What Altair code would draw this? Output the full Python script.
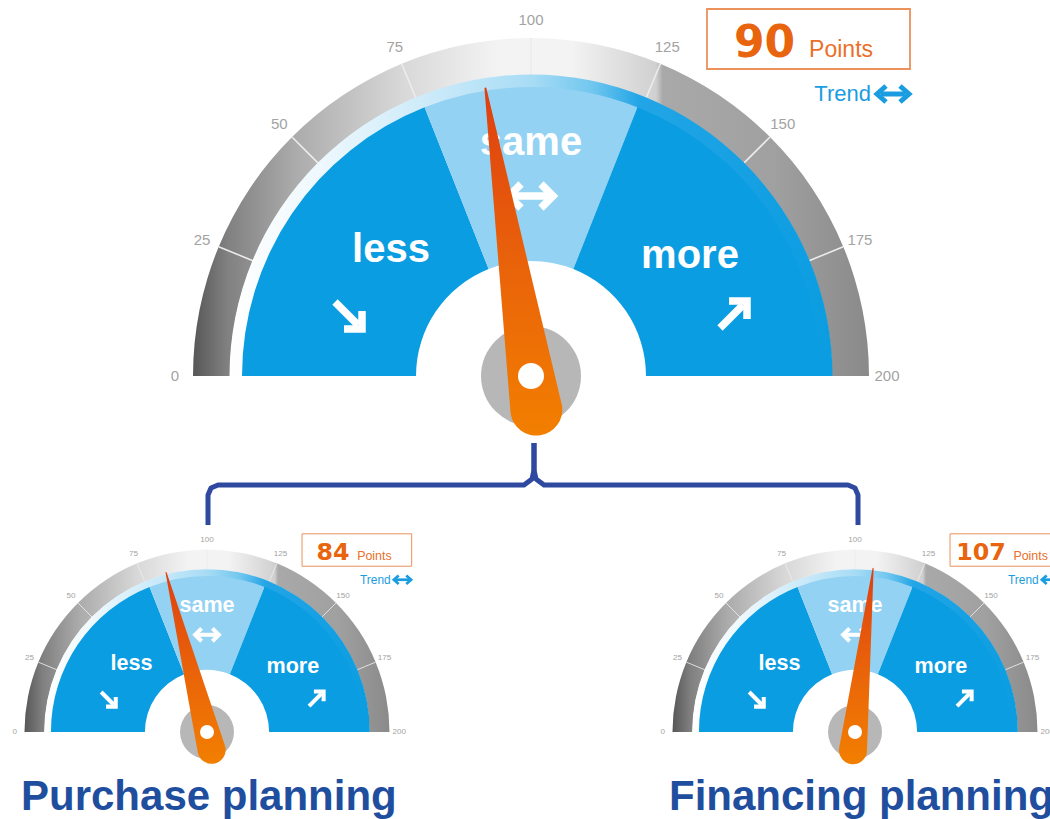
import math
import altair as alt
import pandas as pd

# ---------------- data ----------------
gauge_points = [90, 84, 107]
gauge_titles = ["", "Purchase planning", "Financing planning"]
tick_values = [0, 25, 50, 75, 100, 125, 150, 175, 200]
zone_names = ["less", "same", "more"]
zone_bounds = [0, 76, 124, 200]
zone_arrows = ["down", "both", "up"]
points_label = "Points"
trend_label = "Trend"
SCALE_MAX = 200

# ---------------- layout (style) ----------------
CX = [531, 207, 855]
CY = [376, 732, 732]
S = [1.0, 0.54, 0.54]
R_RING = (301, 338)
R_BAND = (287, 301.5)
R_SECT = (115, 289)
R_HUB = 50
R_DOT = 13
R_LABEL = 356
NEEDLE_LEN = [291, 305, 305]
NEEDLE_TAIL = 34
ZONE_TEXT_OFF = {"less": (-140, -126), "same": (0, -233), "more": (159, -120)}
ZONE_ARROW_OFF = {"less": (-183, -61), "same": (0, -180), "more": (202, -61)}
ARROW_SHAPES = {
    "down": [[(-13, -13), (10, 10)], [(14, -4), (14, 14), (-4, 14)]],
    "up": [[(-13, 13), (10, -10)], [(-4, -14), (14, -14), (14, 4)]],
    "both": [[(-20, 0), (20, 0)], [(-10, -12), (-22, 0), (-10, 12)], [(10, -12), (22, 0), (10, 12)]],
}
TREND_ARROW = [[(-12, 0), (12, 0)], [(-7, -8), (-16, 0), (-7, 8)], [(7, -8), (16, 0), (7, 8)]]

BLUE = "#0b9de1"
LIGHT = "#93d2f3"
ORANGE = "#e8640e"
TREND_BLUE = "#1a9de0"
NAVY = "#1f4e9f"
BRACKET = "#2f48a0"


def ang(v):
    return -math.pi / 2 + math.pi * v / SCALE_MAX


def theta(v):
    return ang(v) + 2 * math.pi


def pos(g, v, r):
    a = ang(v)
    return CX[g] + S[g] * r * math.sin(a), CY[g] - S[g] * r * math.cos(a)


def off(g, dx, dy):
    return CX[g] + S[g] * dx, CY[g] + S[g] * dy


ring, band, sect, hub, dot = [], [], [], [], []
tick_lines, tick_labels, zone_text, arrows, needle = [], [], [], [], []
boxes, num_text, pts_text, trend_text, trend_arrows, titles = [], [], [], [], [], []

pid = 0
for g in range(3):
    s = S[g]
    ring.append(dict(g=g, x=CX[g], y=CY[g], t0=theta(0), t1=theta(SCALE_MAX), r0=s * R_RING[0], r1=s * R_RING[1]))
    band.append(dict(g=g, x=CX[g], y=CY[g], t0=theta(0), t1=theta(SCALE_MAX), r0=s * R_BAND[0], r1=s * R_BAND[1]))
    for i, z in enumerate(zone_names):
        sect.append(dict(g=g, zone=z, x=CX[g], y=CY[g], t0=theta(zone_bounds[i]), t1=theta(zone_bounds[i + 1]),
                         r0=s * R_SECT[0], r1=s * R_SECT[1]))
        tx, ty = off(g, *ZONE_TEXT_OFF[z])
        zone_text.append(dict(x=tx, y=ty, text=z, fs=40 * s))
        ax, ay = ZONE_ARROW_OFF[z]
        for seg in ARROW_SHAPES[zone_arrows[i]]:
            pid += 1
            for k, (px, py) in enumerate(seg):
                x, y = off(g, ax + px, ay + py)
                arrows.append(dict(pid=pid, o=k, x=x, y=y, sw=7.5 * s))
    hub.append(dict(g=g, x=CX[g], y=CY[g], t0=0, t1=2 * math.pi, r0=0, r1=s * R_HUB))
    dot.append(dict(g=g, x=CX[g], y=CY[g], t0=0, t1=2 * math.pi, r0=0, r1=s * R_DOT))
    for v in tick_values[1:-1]:
        x0, y0 = pos(g, v, R_RING[0])
        x1, y1 = pos(g, v, R_RING[1])
        tick_lines.append(dict(x=x0, y=y0, x2=x1, y2=y1, sw=1.6 * s))
    for v in tick_values:
        x, y = pos(g, v, R_LABEL)
        tick_labels.append(dict(x=x, y=y, text=str(v), fs=15 * s))
    val = gauge_points[g]
    tx, ty = pos(g, val, -NEEDLE_TAIL)
    needle.append(dict(g=g, o=0, x=tx, y=ty, w=52 * s))
    tx, ty = pos(g, val, NEEDLE_LEN[g])
    needle.append(dict(g=g, o=1, x=tx, y=ty, w=2 * s))
    # score box
    bx0, by0 = off(g, 176, -367)
    bx1, by1 = off(g, 379, -307)
    boxes.append(dict(x=bx0, y=by0, x2=bx1, y2=by1, sw=max(1.0, 1.8 * s)))
    ntxt = str(val)
    group_w = len(ntxt) * 30.6 + 14 + 65
    start = 273 - group_w / 2
    nx, ny = off(g, start, -319)
    num_text.append(dict(x=nx, y=ny, text=ntxt, fs=44 * s))
    px, py = off(g, start + len(ntxt) * 30.6 + 14, -319)
    pts_text.append(dict(x=px, y=py, text=points_label, fs=23 * s))
    tx, ty = off(g, 340, -282)
    trend_text.append(dict(x=tx, y=ty, text=trend_label, fs=22 * s))
    for seg in TREND_ARROW:
        pid += 1
        for k, (qx, qy) in enumerate(seg):
            x, y = off(g, 362 + qx, -282 + qy)
            trend_arrows.append(dict(pid=pid, o=k, x=x, y=y, sw=5 * s))
    if gauge_titles[g]:
        titles.append(dict(x=CX[g] - 186, y=810, text=gauge_titles[g]))

bracket = []
left_pts = [(534, 443), (534, 470), (532, 479), (524, 485), (218, 485), (211, 488), (208, 495), (208, 525)]
right_pts = [(534, 443), (534, 470), (536, 479), (544, 485), (848, 485), (855, 488), (858, 495), (858, 525)]
for side, pts in (("L", left_pts), ("R", right_pts)):
    for k, (x, y) in enumerate(pts):
        bracket.append(dict(side=side, o=k, x=x, y=y))

X = lambda f="x": alt.X(f + ":Q", scale=None, axis=None)
Y = lambda f="y": alt.Y(f + ":Q", scale=None, axis=None)


def arc_enc(base):
    return base.encode(
        x=X(), y=Y(),
        theta=alt.Theta("t0:Q", scale=None, stack=False), theta2="t1:Q",
        radius=alt.Radius("r1:Q", scale=None), radius2="r0:Q",
    )


def grad(stops, vertical=False):
    return alt.LinearGradient(
        gradient="linear",
        stops=[alt.GradientStop(offset=o, color=c) for o, c in stops],
        x1=0, x2=0 if vertical else 1, y1=0, y2=1 if vertical else 0,
    )


ring_grad = grad([(0, "#575757"), (0.05, "#808080"), (0.15, "#ababab"), (0.31, "#d8d8d8"),
                  (0.45, "#f3f3f3"), (0.56, "#f3f3f3"), (0.685, "#d0d0d0"), (0.695, "#a9a9a9"),
                  (0.86, "#a0a0a0"), (1, "#8a8a8a")])
band_grad = grad([(0, "#ffffff"), (0.15, "#eef8fd"), (0.35, "#c8e9f9"), (0.5, "#a8dcf5"),
                  (0.6, "#72c7ef"), (0.68, "#22a5e6"), (1, BLUE)])
needle_grad = grad([(0, "#de3f10"), (0.5, "#e9620a"), (1, "#f27f00")], vertical=True)

L_ring = arc_enc(alt.Chart(pd.DataFrame(ring)).mark_arc(fill=ring_grad))
L_ticks = alt.Chart(pd.DataFrame(tick_lines)).mark_rule(color="#ececec").encode(
    x=X(), y=Y(), x2="x2:Q", y2="y2:Q", strokeWidth=alt.StrokeWidth("sw:Q", scale=None))
L_band = arc_enc(alt.Chart(pd.DataFrame(band)).mark_arc(fill=band_grad))
L_sect = arc_enc(alt.Chart(pd.DataFrame(sect)).mark_arc()).encode(
    fill=alt.Fill("zone:N", scale=alt.Scale(domain=zone_names, range=[BLUE, LIGHT, BLUE]), legend=None))
L_ztext = alt.Chart(pd.DataFrame(zone_text)).mark_text(
    font="Liberation Sans", fontWeight="bold", color="white", baseline="middle", align="center").encode(
    x=X(), y=Y(), text="text:N", size=alt.Size("fs:Q", scale=None))
L_arrows = alt.Chart(pd.DataFrame(arrows)).mark_line(color="white", strokeCap="butt", strokeJoin="miter").encode(
    x=X(), y=Y(), detail="pid:N", order="o:Q", strokeWidth=alt.StrokeWidth("sw:Q", scale=None))
L_hub = arc_enc(alt.Chart(pd.DataFrame(hub)).mark_arc(fill="#b7b7b7"))
L_needle = alt.Chart(pd.DataFrame(needle)).mark_trail(color=needle_grad).encode(
    x=X(), y=Y(), detail="g:N", order="o:Q", size=alt.Size("w:Q", scale=None))
L_dot = arc_enc(alt.Chart(pd.DataFrame(dot)).mark_arc(fill="white"))
L_tlab = alt.Chart(pd.DataFrame(tick_labels)).mark_text(
    font="Liberation Sans", color="#a3a3a3", baseline="middle", align="center").encode(
    x=X(), y=Y(), text="text:N", size=alt.Size("fs:Q", scale=None))
L_box = alt.Chart(pd.DataFrame(boxes)).mark_rect(fill="white", stroke="#ea915c").encode(
    x=X(), y=Y(), x2="x2:Q", y2="y2:Q", strokeWidth=alt.StrokeWidth("sw:Q", scale=None))
L_num = alt.Chart(pd.DataFrame(num_text)).mark_text(
    font="DejaVu Sans", fontWeight="bold", color=ORANGE, baseline="alphabetic", align="left").encode(
    x=X(), y=Y(), text="text:N", size=alt.Size("fs:Q", scale=None))
L_pts = alt.Chart(pd.DataFrame(pts_text)).mark_text(
    font="Liberation Sans", color="#e9702a", baseline="alphabetic", align="left").encode(
    x=X(), y=Y(), text="text:N", size=alt.Size("fs:Q", scale=None))
L_trend = alt.Chart(pd.DataFrame(trend_text)).mark_text(
    font="Liberation Sans", color=TREND_BLUE, baseline="middle", align="right").encode(
    x=X(), y=Y(), text="text:N", size=alt.Size("fs:Q", scale=None))
L_tarrow = alt.Chart(pd.DataFrame(trend_arrows)).mark_line(color=TREND_BLUE, strokeCap="butt", strokeJoin="miter").encode(
    x=X(), y=Y(), detail="pid:N", order="o:Q", strokeWidth=alt.StrokeWidth("sw:Q", scale=None))
L_bracket = alt.Chart(pd.DataFrame(bracket)).mark_line(color=BRACKET, strokeWidth=5, strokeJoin="round").encode(
    x=X(), y=Y(), detail="side:N", order="o:Q")
L_titles = alt.Chart(pd.DataFrame(titles)).mark_text(
    font="Liberation Sans", fontWeight="bold", color=NAVY, fontSize=42, baseline="alphabetic", align="left").encode(
    x=X(), y=Y(), text="text:N")

chart = alt.layer(
    L_ring, L_ticks, L_band, L_sect, L_ztext, L_arrows, L_hub, L_needle, L_dot, L_tlab,
    L_box, L_num, L_pts, L_trend, L_tarrow, L_bracket, L_titles,
).properties(
    width=1050, height=819, padding=0, autosize=alt.AutoSizeParams(type="none"), background="white"
).configure_view(stroke=None)

chart.save("out.html", embed_options={"renderer": "svg", "actions": False})
